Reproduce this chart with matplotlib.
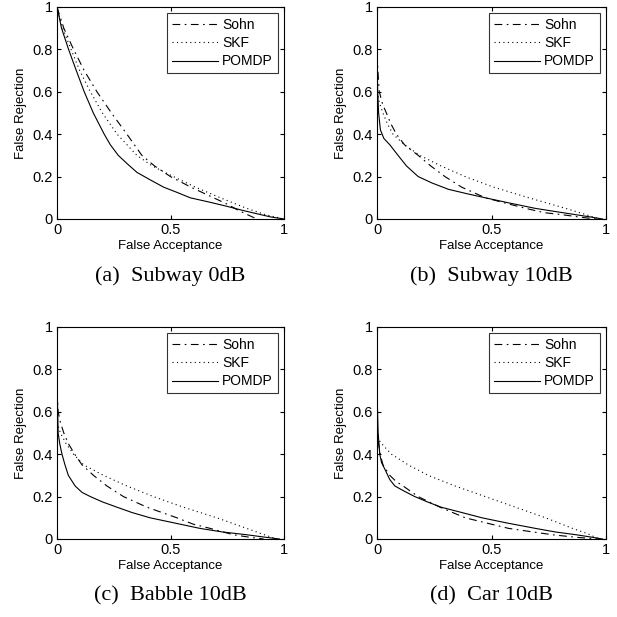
import matplotlib
matplotlib.use("Agg")
import matplotlib.pyplot as plt

plt.rcParams['font.family'] = ['Liberation Sans', 'DejaVu Sans']

# data: (false acceptance, false rejection)
titles = ["(a)  Subway 0dB", "(b)  Subway 10dB", "(c)  Babble 10dB", "(d)  Car 10dB"]

sohn_fa = [
    [0.0, 0.03, 0.073, 0.12, 0.176, 0.24, 0.308, 0.374, 0.43, 0.5, 0.59, 0.69, 0.75, 0.8, 0.85, 0.88],
    [0.0, 0.005, 0.01, 0.025, 0.041, 0.06, 0.085, 0.12, 0.18, 0.235, 0.297, 0.37, 0.473, 0.56, 0.65, 0.73, 0.81, 0.9, 0.956],
    [0.0, 0.005, 0.015, 0.03, 0.05, 0.078, 0.11, 0.161, 0.22, 0.293, 0.396, 0.528, 0.6, 0.675, 0.777, 0.85, 0.91],
    [0.0, 0.007, 0.014, 0.026, 0.056, 0.085, 0.114, 0.18, 0.275, 0.385, 0.48, 0.575, 0.67, 0.766, 0.87, 0.97],
]
sohn_fr = [
    [1.0, 0.9, 0.8, 0.7, 0.6, 0.5, 0.4, 0.3, 0.25, 0.2, 0.15, 0.1, 0.07, 0.04, 0.015, 0.0],
    [0.78, 0.68, 0.6, 0.54, 0.5, 0.45, 0.4, 0.35, 0.3, 0.25, 0.2, 0.15, 0.1, 0.075, 0.05, 0.03, 0.02, 0.007, 0.0],
    [0.7, 0.6, 0.55, 0.5, 0.45, 0.4, 0.35, 0.3, 0.25, 0.2, 0.15, 0.1, 0.07, 0.05, 0.02, 0.008, 0.0],
    [0.55, 0.45, 0.4, 0.35, 0.3, 0.27, 0.25, 0.2, 0.15, 0.1, 0.075, 0.05, 0.035, 0.02, 0.008, 0.0],
]

skf_fa = [
    [0.0, 0.025, 0.062, 0.1, 0.147, 0.2, 0.265, 0.352, 0.42, 0.513, 0.61, 0.72, 0.836, 0.92, 1.0],
    [0.0, 0.01, 0.026, 0.045, 0.07, 0.12, 0.187, 0.28, 0.385, 0.51, 0.663, 0.824, 0.9, 0.97],
    [0.0, 0.015, 0.04, 0.073, 0.117, 0.205, 0.308, 0.425, 0.557, 0.704, 0.836, 0.9, 0.968],
    [0.0, 0.02, 0.063, 0.136, 0.224, 0.341, 0.473, 0.605, 0.736, 0.854, 0.92, 0.97],
]
skf_fr = [
    [1.0, 0.9, 0.8, 0.7, 0.6, 0.5, 0.4, 0.3, 0.25, 0.2, 0.15, 0.1, 0.05, 0.02, 0.0],
    [0.62, 0.55, 0.5, 0.45, 0.4, 0.35, 0.3, 0.25, 0.2, 0.15, 0.1, 0.05, 0.025, 0.0],
    [0.55, 0.5, 0.45, 0.4, 0.35, 0.3, 0.25, 0.2, 0.15, 0.1, 0.05, 0.025, 0.0],
    [0.48, 0.45, 0.4, 0.35, 0.3, 0.25, 0.2, 0.15, 0.1, 0.05, 0.025, 0.0],
]

pomdp_fa = [
    [0.0, 0.02, 0.051, 0.085, 0.12, 0.16, 0.208, 0.235, 0.27, 0.31, 0.352, 0.41, 0.47, 0.53, 0.587, 0.67, 0.748, 0.82, 0.88, 0.94, 1.0],
    [0.0, 0.003, 0.007, 0.015, 0.03, 0.056, 0.092, 0.129, 0.18, 0.24, 0.312, 0.39, 0.473, 0.58, 0.692, 0.78, 0.87, 0.93, 0.985],
    [0.0, 0.005, 0.012, 0.022, 0.035, 0.05, 0.08, 0.11, 0.147, 0.2, 0.264, 0.33, 0.41, 0.52, 0.63, 0.73, 0.836, 0.92, 0.98],
    [0.0, 0.005, 0.012, 0.02, 0.034, 0.056, 0.078, 0.12, 0.165, 0.22, 0.28, 0.37, 0.458, 0.57, 0.692, 0.78, 0.87, 0.93, 0.985],
]
pomdp_fr = [
    [1.0, 0.9, 0.8, 0.7, 0.6, 0.5, 0.4, 0.35, 0.3, 0.26, 0.22, 0.185, 0.15, 0.125, 0.1, 0.08, 0.06, 0.04, 0.025, 0.01, 0.0],
    [0.75, 0.6, 0.5, 0.42, 0.38, 0.35, 0.3, 0.25, 0.2, 0.17, 0.14, 0.12, 0.1, 0.075, 0.05, 0.035, 0.02, 0.01, 0.0],
    [0.75, 0.5, 0.45, 0.4, 0.35, 0.3, 0.25, 0.22, 0.2, 0.175, 0.15, 0.125, 0.1, 0.075, 0.05, 0.033, 0.02, 0.008, 0.0],
    [0.7, 0.5, 0.4, 0.36, 0.33, 0.28, 0.25, 0.225, 0.2, 0.175, 0.15, 0.125, 0.1, 0.075, 0.05, 0.033, 0.02, 0.01, 0.0],
]

W = 617
fig = plt.figure(figsize=(6.17, 6.17), dpi=100)

# axes boxes in pixels: left, right, top, bottom
boxes = [(57, 284, 7, 219), (377, 606, 7, 219), (57, 284, 327, 539), (377, 606, 327, 539)]

for i, (l, r, t, b) in enumerate(boxes):
    ax = fig.add_axes([l / W, 1 - b / W, (r - l) / W, (b - t) / W])
    ax.plot(sohn_fa[i], sohn_fr[i], color='black', lw=0.8, ls=(0, (7, 4, 1.5, 4)), label='Sohn')
    ax.plot(skf_fa[i], skf_fr[i], color='black', lw=0.8, ls=(0, (1, 3)), label='SKF')
    ax.plot(pomdp_fa[i], pomdp_fr[i], color='black', lw=0.8, label='POMDP')
    ax.set_xlim(0, 1)
    ax.set_ylim(0, 1)
    ax.set_xticks([0, 0.5, 1])
    ax.set_xticklabels(['0', '0.5', '1'])
    ax.set_yticks([0, 0.2, 0.4, 0.6, 0.8, 1])
    ax.set_yticklabels(['0', '0.2', '0.4', '0.6', '0.8', '1'])
    ax.tick_params(direction='in', top=True, right=True, labelsize=10.5, length=3, pad=3)
    ax.set_xlabel('False Acceptance', fontsize=9.5, labelpad=2)
    ax.set_ylabel('False Rejection', fontsize=9.5, labelpad=4)
    for s in ax.spines.values():
        s.set_linewidth(0.8)
    leg = ax.legend(loc='upper right', fontsize=10, frameon=True, fancybox=False,
                    edgecolor='black', handlelength=3.3, borderaxespad=0.45,
                    labelspacing=0.3, handletextpad=0.3, borderpad=0.35)
    leg.get_frame().set_linewidth(0.8)
    fig.text((l + r) / 2 / W, 1 - (b + 57) / W, titles[i], ha='center', va='center',
             fontsize=16, family='Liberation Serif')

fig.savefig('out.png', dpi=100)
